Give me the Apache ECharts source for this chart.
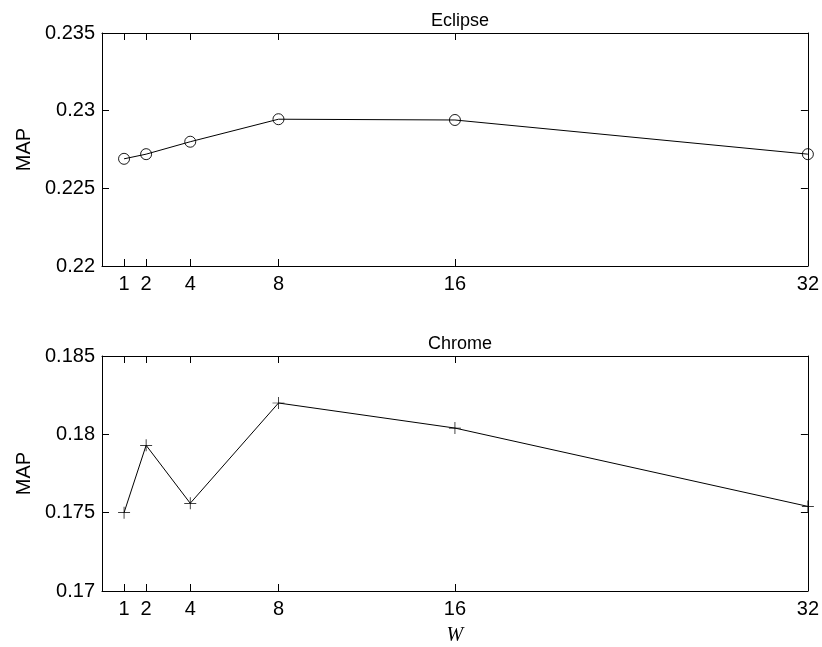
<!DOCTYPE html>
<html><head><meta charset="utf-8">
<script src="https://cdn.jsdelivr.net/npm/echarts@6/dist/echarts.min.js"></script>
<style>html,body{margin:0;padding:0;background:#fff}#c{width:822px;height:647px}</style>
</head><body><div id="c"></div>
<script>
const wValues = [1, 2, 4, 8, 16, 32];
const eclipseMAP = [0.2269, 0.2272, 0.2280, 0.22945, 0.2294, 0.2272];
const chromeMAP = [0.1750, 0.1793, 0.1756, 0.1820, 0.1804, 0.1754];
const eclipseTicks = [0.22, 0.225, 0.23, 0.235];
const chromeTicks = [0.17, 0.175, 0.18, 0.185];
const titles = ['Eclipse', 'Chrome'];

const FONT = 'Liberation Sans, Arial, sans-serif';
const chart = echarts.init(document.getElementById('c'));
const plusPath = 'path://M-0.06,-1H0.06V-0.06H1V0.06H0.06V1H-0.06V0.06H-1V-0.06H-0.06Z';
const lineStyle = {color: '#000', width: 1};

function xAxes(gi, showName) {
  const base = {
    type: 'value', gridIndex: gi, min: 0, max: 32,
    axisLine: {show: true, onZero: false, lineStyle: {color: '#000', width: 1}},
    axisTick: {show: true, inside: true, length: 7, customValues: wValues, lineStyle: {color: '#000'}},
    splitLine: {show: false}
  };
  return [
    Object.assign({}, base, {position: 'bottom',
      axisLabel: {show: true, customValues: wValues, color: '#000', fontSize: 20, fontFamily: FONT, margin: 8},
      name: showName ? 'W' : '', nameLocation: 'middle', nameGap: 35,
      nameTextStyle: {fontFamily: 'Liberation Serif, serif', fontStyle: 'italic', fontSize: 20, color: '#000'}}),
    Object.assign({}, base, {position: 'top', axisLabel: {show: false}})
  ];
}
function yAxes(gi, ticks) {
  const base = {
    type: 'value', gridIndex: gi, min: ticks[0], max: ticks[ticks.length - 1], interval: 0.005,
    axisLine: {show: true, onZero: false, lineStyle: {color: '#000', width: 1}},
    axisTick: {show: true, inside: true, length: 7, lineStyle: {color: '#000'}},
    splitLine: {show: false}
  };
  return [
    Object.assign({}, base, {position: 'left',
      axisLabel: {color: '#000', fontSize: 20, fontFamily: FONT, margin: 7, formatter: v => String(+v.toFixed(3))},
      name: 'MAP', nameLocation: 'middle', nameGap: 68, nameRotate: 90,
      nameTextStyle: {fontFamily: FONT, fontSize: 20, color: '#000'}}),
    Object.assign({}, base, {position: 'right', axisLabel: {show: false}})
  ];
}

chart.setOption({
  animation: false,
  backgroundColor: '#fff',
  title: [
    {text: titles[0], left: 455, top: 7, textAlign: 'center', textStyle: {fontFamily: FONT, fontSize: 18, fontWeight: 'normal', color: '#000'}},
    {text: titles[1], left: 455, top: 330, textAlign: 'center', textStyle: {fontFamily: FONT, fontSize: 18, fontWeight: 'normal', color: '#000'}}
  ],
  grid: [
    {left: 102, top: 33, width: 706, height: 233},
    {left: 102, top: 356, width: 706, height: 236}
  ],
  xAxis: [...xAxes(0, false), ...xAxes(1, true)],
  yAxis: [...yAxes(0, eclipseTicks), ...yAxes(1, chromeTicks)],
  series: [
    {type: 'line', xAxisIndex: 0, yAxisIndex: 0, data: wValues.map((w, i) => [w, eclipseMAP[i]]),
      symbol: 'circle', symbolSize: 11, lineStyle,
      itemStyle: {color: 'rgba(255,255,255,0)', borderColor: '#000', borderWidth: 0.9}},
    {type: 'line', xAxisIndex: 2, yAxisIndex: 2, data: wValues.map((w, i) => [w, chromeMAP[i]]),
      symbol: plusPath, symbolSize: 12, lineStyle, itemStyle: {color: '#000'}}
  ]
});
</script></body></html>
